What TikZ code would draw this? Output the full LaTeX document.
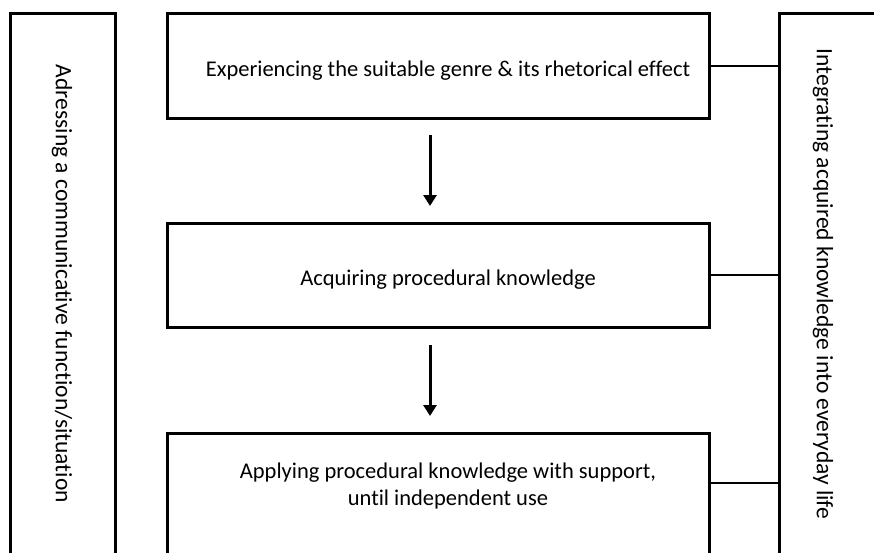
\documentclass[tikz,border=0pt]{standalone}
\usepackage{fontspec}
\setmainfont[Ligatures=NoCommon]{Carlito}
\usetikzlibrary{arrows.meta}
\begin{document}
\begin{tikzpicture}[x=1pt,y=-1pt,
  box/.style={draw=black,line width=3pt,rectangle,inner sep=0pt},
  lbl/.style={font=\fontsize{22.5}{27}\selectfont,inner sep=0pt,align=center},
  vlbl/.style={font=\fontsize{23.5}{28}\selectfont,inner sep=0pt,rotate=-90},
  link/.style={draw=black,line width=2pt},
  flow/.style={draw=black,line width=3pt,-{Triangle[width=13pt,length=11pt]}}]
\useasboundingbox (0,0) rectangle (874,552);
\clip (0,0) rectangle (874,552);
% side boxes
\node[box,minimum width=105pt,minimum height=552pt] (lbox) at (62.5,289) {};
\node[vlbl] (ltext) at (62,284) {Adressing a communicative function/situation};
\node[box,minimum width=106pt,minimum height=552pt] (rbox) at (832,289) {};
\node[vlbl] (rtext) at (823,284) {Integrating acquired knowledge into everyday life};
% step boxes
\node[box,minimum width=542pt,minimum height=105pt] (top) at (438,65.5) {};
\node[lbl] (ttext) at (448,71) {Experiencing the suitable genre \& its rhetorical effect};
\node[box,minimum width=542pt,minimum height=104pt] (mid) at (438,275) {};
\node[lbl] (mtext) at (448,280) {Acquiring procedural knowledge};
\node[box,minimum width=542pt,minimum height=132pt] (bot) at (438,499) {};
\node[lbl] (btext) at (448,486) {Applying procedural knowledge with support,\\until independent use};
% arrows
\coordinate (a1s) at (430,135);
\coordinate (a1e) at (430,206);
\coordinate (a2s) at (430,345);
\coordinate (a2e) at (430,416);
\draw[flow] (a1s) -- (a1e);
\draw[flow] (a2s) -- (a2e);
% connectors to right box
\draw[link] (top.east) -- (top.east -| rbox.west);
\draw[link] (mid.east) -- (mid.east -| rbox.west);
\coordinate (b3) at (bot.east |- 0,483);
\draw[link] (b3) -- (b3 -| rbox.west);
\end{tikzpicture}
\end{document}
